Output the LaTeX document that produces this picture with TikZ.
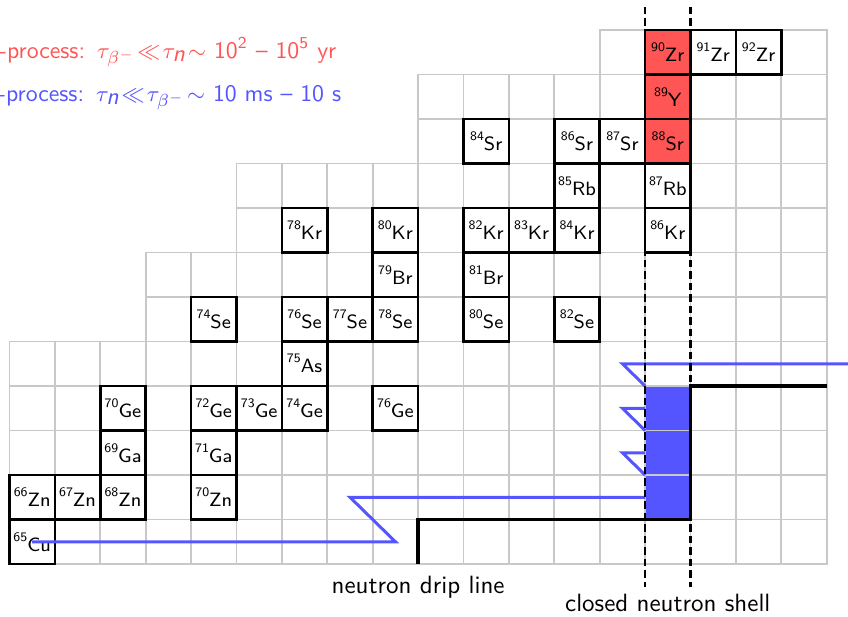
\documentclass[tikz,border=0pt]{standalone}
\definecolor{sred}{RGB}{255,85,85}
\definecolor{sblue}{RGB}{85,85,255}
\definecolor{gridgray}{RGB}{200,200,200}
\newcommand{\iso}[2]{\raisebox{4pt}{\fontsize{5.2}{6}\selectfont #1}#2}
\begin{document}
\begin{tikzpicture}[x=18.16pt, y=-17.8pt,
  gridline/.style={draw=gridgray, line width=0.67pt},
  isobox/.style={draw=black, fill=white, line width=1.07pt, minimum width=18.16pt, minimum height=17.8pt, inner sep=0pt, font=\sffamily\fontsize{7.7}{9}\selectfont},
  hot/.style={isobox, fill=sred},
  rpath/.style={draw=sblue, line width=1.2pt},
  drip/.style={draw=black, line width=1.35pt},
  shell/.style={draw=black, line width=1.07pt, dash pattern=on 3pt off 1.6pt},
  lbl/.style={font=\sffamily\fontsize{10}{12}\selectfont, inner sep=0pt},
  proc/.style={font=\sffamily\fontsize{9.5}{11}\selectfont, inner sep=0pt, anchor=base west}]
\useasboundingbox (-0.2093,-0.6742) rectangle (18.469,13.169);
\clip (-0.2093,-0.6742) rectangle (18.469,13.169);
% blue band (closed shell, r-process waiting points)
\fill[sblue] (14,8) rectangle (15,11);
% grid
\foreach \r/\s in {0/13,1/9,2/9,3/5,4/5,5/3,6/3,7/0,8/0,9/0,10/0,11/0}{
  \foreach \c in {\s,...,17}{
    \draw[gridline] (\c,\r) rectangle ++(1,1);
  }
}
% stable isotopes
\foreach \c/\r/\a/\e/\nm in {
  15/0/91/Zr/zrA, 16/0/92/Zr/zrB,
  10/2/84/Sr/srA, 12/2/86/Sr/srB, 13/2/87/Sr/srC,
  12/3/85/Rb/rbA, 14/3/87/Rb/rbB,
  6/4/78/Kr/krA, 8/4/80/Kr/krB, 10/4/82/Kr/krC, 11/4/83/Kr/krD, 12/4/84/Kr/krE, 14/4/86/Kr/krF,
  8/5/79/Br/brA, 10/5/81/Br/brB,
  4/6/74/Se/seA, 6/6/76/Se/seB, 7/6/77/Se/seC, 8/6/78/Se/seD, 10/6/80/Se/seE, 12/6/82/Se/seF,
  6/7/75/As/asA,
  2/8/70/Ge/geA, 4/8/72/Ge/geB, 5/8/73/Ge/geC, 6/8/74/Ge/geD, 8/8/76/Ge/geE,
  2/9/69/Ga/gaA, 4/9/71/Ga/gaB,
  0/10/66/Zn/znA, 1/10/67/Zn/znB, 2/10/68/Zn/znC, 4/10/70/Zn/znD,
  0/11/65/Cu/cuA}{
  \node[isobox] (\nm) at (\c+0.5,\r+0.5) {\iso{\a}{\e}};
}
\node[hot] (zr90) at (14.5,0.5) {\iso{90}{Zr}};
\node[hot] (y89) at (14.5,1.5) {\iso{89}{Y}};
\node[hot] (sr88) at (14.5,2.5) {\iso{88}{Sr}};
% r-process path
\coordinate (rend) at (18.6,7.5);
\draw[rpath] (cuA.center) -- (8.5,11.5) -- (7.5,10.5) -- (14,10.5)
  (14,10) -- (13.5,9.5) -- (14,9.5)
  (14,9) -- (13.5,8.5) -- (14,8.5)
  (14,8) -- (13.5,7.5) -- (rend);
% closed neutron shell
\coordinate (shAt) at (14,-0.52); \coordinate (shAb) at (14,12.51);
\coordinate (shBt) at (15,-0.52); \coordinate (shBb) at (15,12.51);
\draw[shell] (shAt) -- (shAb);
\draw[shell] (shBt) -- (shBb);
% neutron drip line
\draw[drip] (9,12) -- (9,11) -- (15,11) -- (15,8) -- (18,8);
% labels
\node[lbl, anchor=base] (driplbl) at (9,12.67) {neutron drip line};
\node[lbl, anchor=base] (shelllbl) at (14.5,13.07) {closed neutron shell};
\node[proc, text=sred] (sproc) at (-0.44,0.63)
  {\thickmuskip=1.5mu s-process:\hspace{0.5em}$\tau_{\beta^-} \ll \tau_{\textit{n}} \sim$ 10\textsuperscript{2} -- 10\textsuperscript{5} yr};
\node[proc, text=sblue] (rproc) at (-0.44,1.6)
  {\thickmuskip=1.5mu r-process:\hspace{0.5em}$\tau_{\textit{n}} \ll \tau_{\beta^-} \sim$ 10 ms -- 10 s};
\end{tikzpicture}
\end{document}
